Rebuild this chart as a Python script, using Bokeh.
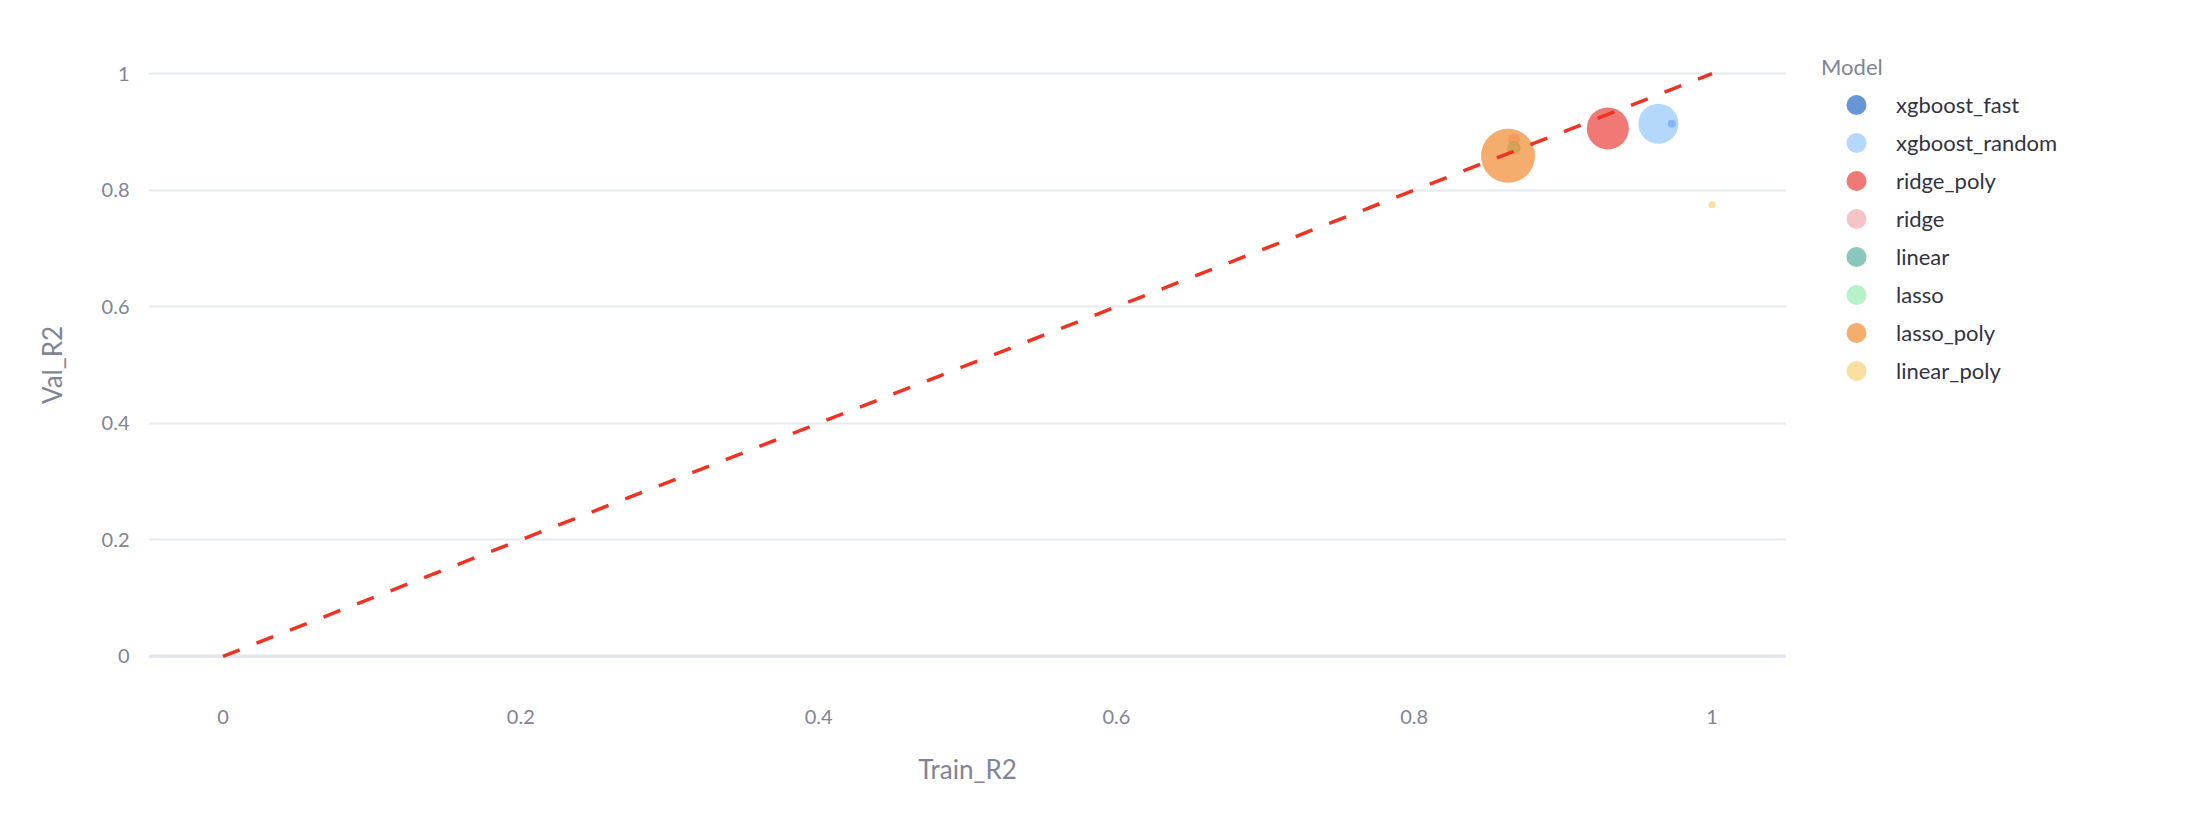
from bokeh.plotting import figure
from bokeh.layouts import row
from bokeh.models import Legend, LegendItem, Span, FixedTicker
from bokeh.embed import file_html
from bokeh.resources import INLINE

# model results
models = ["xgboost_fast", "xgboost_random", "ridge_poly", "ridge",
          "linear", "lasso", "lasso_poly", "linear_poly"]
train_r2 = [0.973, 0.964, 0.930, 0.867, 0.867, 0.866, 0.863, 1.000]
val_r2 = [0.914, 0.914, 0.906, 0.887, 0.873, 0.872, 0.859, 0.775]
bubble = [8, 40, 42, 12, 13, 12, 54, 7]
colors = ["#276AC4", "#94C6FB", "#EA3E3B", "#F2ABAB",
          "#55AF9C", "#97EBB0", "#F18A30", "#F8D177"]

ideal_x = [0, 1]
ideal_y = [0, 1]

ticks = [0, 0.2, 0.4, 0.6, 0.8, 1]
tick_labels = ["0", "0.2", "0.4", "0.6", "0.8", "1"]

FONT = "Lato"
GREY = "#808495"

p = figure(width=1786, height=810, x_range=(-0.05, 1.05), y_range=(-0.05, 1.05),
           output_backend="svg", toolbar_location=None,
           min_border_left=148, min_border_top=44, min_border_right=0,
           min_border_bottom=125)
p.outline_line_color = None

# legend lives in its own narrow figure at the right
leg = figure(width=412, height=810, x_range=(2, 3), y_range=(2, 3),
             output_backend="svg", toolbar_location=None,
             x_axis_type=None, y_axis_type=None,
             min_border_left=26, min_border_right=0, min_border_bottom=0,
             min_border_top=9)
leg.outline_line_color = None

items = []
for name, tx, vy, b, c in zip(models, train_r2, val_r2, bubble, colors):
    p.ellipse([tx], [vy], width=b, height=b, width_units="screen",
              height_units="screen", fill_color=c, fill_alpha=0.7,
              line_color=None)
    # same point, outside the legend figure's ranges: only its swatch shows
    r = leg.ellipse([tx], [vy], width=b, height=b, width_units="screen",
                    height_units="screen", fill_color=c, fill_alpha=0.7,
                    line_color=None)
    items.append(LegendItem(label=name, renderers=[r]))

zero = Span(location=0, dimension="width", line_color="#E3E6EE", line_width=3.5,
            level="underlay")
p.add_layout(zero)

p.line(ideal_x, ideal_y, line_color="#EF3323", line_width=3.5, line_dash="18 18")

p.xgrid.grid_line_color = None
p.ygrid.grid_line_color = "#E6EAF1"
p.ygrid.grid_line_width = 2

for ax in (p.xaxis, p.yaxis):
    ax.ticker = FixedTicker(ticks=ticks)
    ax.major_label_overrides = dict(zip(ticks, tick_labels))
    ax.axis_line_color = None
    ax.major_tick_line_color = None
    ax.minor_tick_line_color = None
    ax.major_tick_out = 0
    ax.major_label_text_font = FONT
    ax.major_label_text_font_size = "20px"
    ax.major_label_text_color = GREY
    ax.axis_label_text_font = FONT
    ax.axis_label_text_font_size = "26px"
    ax.axis_label_text_font_style = "normal"
    ax.axis_label_text_color = GREY

p.xaxis.axis_label = "Train_R2"
p.yaxis.axis_label = "Val_R2"
p.xaxis.major_label_standoff = 24
p.xaxis.axis_label_standoff = 26
p.yaxis.major_label_standoff = 19
p.yaxis.axis_label_standoff = 31

legend = Legend(items=items, location="top_left", title="Model",
                padding=10, margin=9, spacing=11,
                glyph_width=70, glyph_height=25, label_height=27,
                label_standoff=5, title_standoff=11,
                border_line_color=None, background_fill_alpha=0)
legend.title_text_font = FONT
legend.title_text_font_size = "22px"
legend.title_text_font_style = "normal"
legend.title_text_color = GREY
legend.label_text_font = FONT
legend.label_text_font_size = "22px"
legend.label_text_color = "#31333F"
leg.add_layout(legend)

open("out.html", "w").write(file_html(row(p, leg), INLINE))
